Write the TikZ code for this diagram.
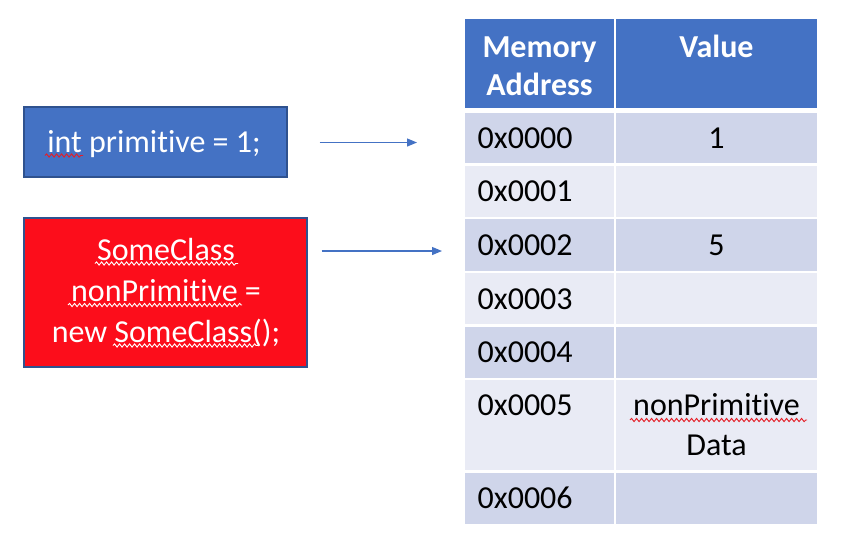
\documentclass[tikz,border=0pt]{standalone}
\usepackage{fontspec}
\setmainfont{Carlito}[Ligatures=NoCommon]
\usetikzlibrary{arrows.meta,decorations.pathmorphing}
\definecolor{boxblue}{HTML}{4472C4}
\definecolor{boxborder}{HTML}{2F528F}
\definecolor{boxred}{HTML}{FC0D1B}
\definecolor{bandA}{HTML}{CFD5EA}
\definecolor{bandB}{HTML}{E9EBF5}
\definecolor{squigred}{HTML}{E41E26}
\begin{document}
\begin{tikzpicture}[x=1pt,y=-1pt,
  codebox/.style={draw=boxborder, line width=1.2pt, inner sep=0pt},
  wtext/.style={text=white, inner sep=0pt, font=\fontsize{32}{38}\selectfont},
  ktext/.style={text=black, inner sep=0pt, font=\fontsize{32}{38}\selectfont},
  htext/.style={text=white, inner sep=0pt, font=\fontsize{32}{38}\selectfont\bfseries},
  arr/.style={draw=boxblue, line width=1.2pt, -{Triangle[length=10pt,width=8pt]}},
  squig/.style={decorate, decoration={snake, amplitude=1.6pt, segment length=5pt}, line width=0.9pt}]
\useasboundingbox (0,0) rectangle (846,546);

% left code boxes
\node[codebox, fill=boxblue, minimum width=263pt, minimum height=70pt] (prim) at (155.5,142) {};
\node[wtext, anchor=base] (primtxt) at (154,152) {int primitive = 1;};

\node[codebox, fill=boxred, minimum width=283pt, minimum height=149pt] (cls) at (165.5,292.5) {};
\node[wtext, anchor=base] (clsA) at (166,260) {SomeClass};
\node[wtext, anchor=base] (clsB) at (166,301) {nonPrimitive =};
\node[wtext, anchor=base] (clsC) at (166,342) {new SomeClass();};

% spell-check squiggles
\draw[squig, squigred] (45,155.5) -- (83,155.5);
\draw[squig, white] (95,263.5) -- (238,263.5);
\draw[squig, white] (68,305) -- (242,305);
\draw[squig, white] (113,345.5) -- (258,345.5);

% table
\fill[boxblue] (465,19) rectangle (614,107.7);
\fill[boxblue] (616,19) rectangle (817,107.7);
\foreach \t/\b/\c in {113/163.3/bandA, 165.7/217.3/bandB, 219.3/270.7/bandA, 272.7/324.3/bandB, 326.7/377.7/bandA, 379.7/470.3/bandB, 472.7/524/bandA}{
  \fill[\c] (465,\t) rectangle (614,\b);
  \fill[\c] (616,\t) rectangle (817,\b);
}
\node[htext, anchor=base] (hA1) at (539.5,57) {Memory};
\node[htext, anchor=base] (hA2) at (539.5,95) {Address};
\node[htext, anchor=base] (hB) at (716.5,57) {Value};

\node[ktext, anchor=base west] (r0) at (477.5,148) {0x0000};
\node[ktext, anchor=base west] (r1) at (477.5,201.5) {0x0001};
\node[ktext, anchor=base west] (r2) at (477.5,255) {0x0002};
\node[ktext, anchor=base west] (r3) at (477.5,309) {0x0003};
\node[ktext, anchor=base west] (r4) at (477.5,362.5) {0x0004};
\node[ktext, anchor=base west] (r5) at (477.5,415) {0x0005};
\node[ktext, anchor=base west] (r6) at (477.5,508) {0x0006};

\node[ktext, anchor=base] (v0) at (716.5,148) {1};
\node[ktext, anchor=base] (v2) at (716.5,255) {5};
\node[ktext, anchor=base] (v5a) at (716.5,415) {nonPrimitive};
\node[ktext, anchor=base] (v5b) at (716.5,455) {Data};
\draw[squig, squigred] (630,420) -- (807,420);

% arrows
\coordinate (a1e) at (417,142.5);
\coordinate (a2e) at (442,251);
\draw[arr] ([xshift=32pt]prim.east |- a1e) -- (a1e);
\draw[arr] ([xshift=14pt]cls.east |- a2e) -- (a2e);
\end{tikzpicture}
\end{document}
